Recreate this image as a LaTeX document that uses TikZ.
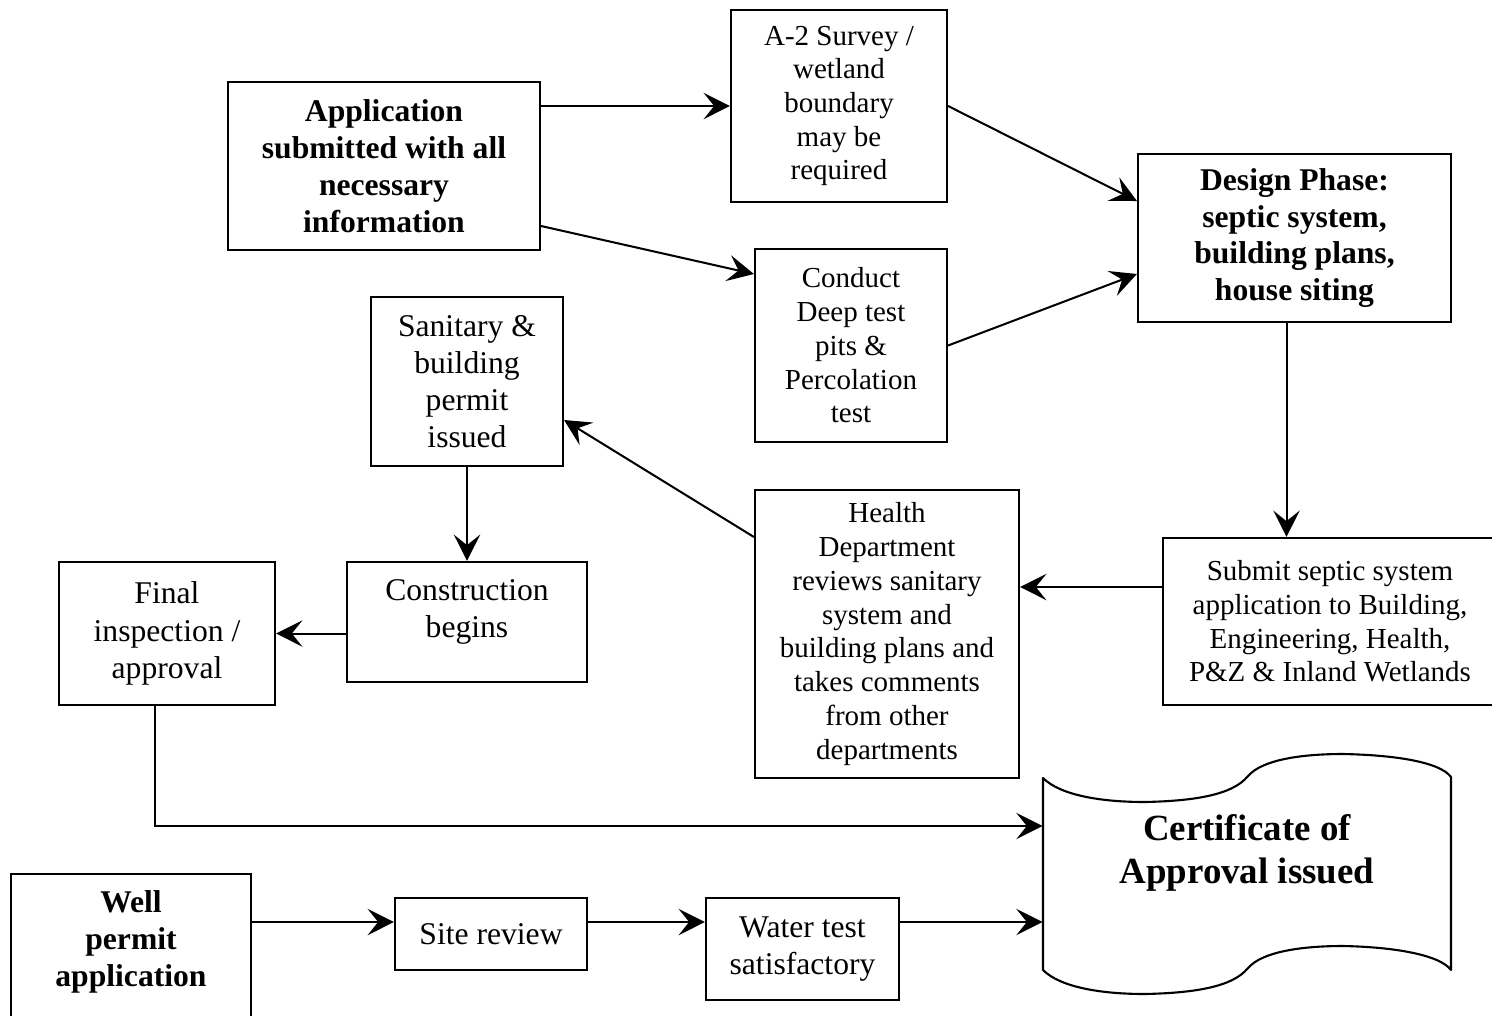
\documentclass[tikz,border=0pt]{standalone}
\usepackage{fontspec}
\setmainfont{Liberation Serif}
\usetikzlibrary{arrows.meta,calc}
\def\PX{0.02cm}
\newcommand\fsA{\fontsize{16.5}{19.2}\selectfont}
\newcommand\fsB{\fontsize{18}{21.2}\selectfont}
\newcommand\fsBold{\bfseries\fontsize{18}{21}\selectfont}
\newcommand\fsCert{\bfseries\fontsize{21}{24.4}\selectfont}
\tikzset{
  boxline/.style={draw, line width=1.2pt},
  box/.style={boxline, align=center, inner sep=0pt},
  boxA/.style={box, font=\fsA},
  boxB/.style={box, font=\fsB},
  boxC/.style={box, font=\fsBold},
  arr/.style={line width=1.15pt, -{Stealth[length=15pt, width=15pt, inset=6pt]}},
}
\begin{document}
\begin{tikzpicture}[x=\PX, y=-\PX]
\useasboundingbox (0,0) rectangle (1492,1015);
\clip (0,0) rectangle (1492,1015);
\fill[white] (0,0) rectangle (1492,1015);

\coordinate (row) at (0,922);
\coordinate (hrow) at (0,587);

\node[boxC, minimum width=312*\PX, minimum height=168*\PX] (app) at (384,166)
  {Application\\submitted with all\\necessary\\information};
\node[boxA, minimum width=216*\PX, minimum height=192*\PX] (a2) at (839,106)
  {A-2 Survey /\\wetland\\boundary\\may be\\required};
\node[boxA, minimum width=192*\PX, minimum height=193*\PX] (deep) at (851,345.5)
  {Conduct\\Deep test\\pits \&\\Percolation\\test};
\node[boxC, minimum width=313*\PX, minimum height=168*\PX] (design) at (1294.5,238)
  {Design Phase:\\septic system,\\building plans,\\house siting};
\node[boxB, minimum width=192*\PX, minimum height=169*\PX] (sanit) at (467,381.5)
  {Sanitary \&\\building\\permit\\issued};
\node[boxA, minimum width=264*\PX, minimum height=288*\PX] (health) at (887,634)
  {Health\\Department\\reviews sanitary\\system and\\building plans and\\takes comments\\from other\\departments};
\node[boxA, minimum width=334*\PX, minimum height=167*\PX] (submit) at (1330,621.5)
  {Submit septic system\\application to Building,\\Engineering, Health,\\P\&Z \& Inland Wetlands};
\node[box, minimum width=240*\PX, minimum height=120*\PX,
  label={[font=\fsB, align=center, inner sep=0pt, anchor=center, yshift=10*\PX]center:{Construction\\begins}}]
  (constr) at (467,622) {};
\node[boxB, minimum width=216*\PX, minimum height=143*\PX] (fin) at (167,633.5)
  {Final\\inspection /\\approval};
\node[box, minimum width=240*\PX, minimum height=166*\PX,
  label={[font=\fsBold, align=center, anchor=north, inner sep=0pt, yshift=-17*\PX]north:{Well\\permit\\application}}]
  (well) at (131,957) {};
\node[boxB, minimum width=192*\PX, minimum height=72*\PX] (site) at (491,934) {Site review};
\node[boxB, minimum width=193*\PX, minimum height=102*\PX] (water) at (802.5,949)
  {Water test\\satisfactory};

% certificate (wave shape)
\node[minimum width=408*\PX, minimum height=192*\PX, inner sep=0pt] (cert) at (1247,874) {};
\draw[line width=1.2pt, line join=round]
  (1043,778) .. controls (1060,795) and (1100,802) .. (1145,802)
  .. controls (1190,801) and (1232,796) .. (1248,776)
  .. controls (1262,760) and (1300,754) .. (1343,754)
  .. controls (1395,755) and (1440,762) .. (1451,777)
  -- (1451,970)
  .. controls (1440,955) and (1395,947) .. (1343,946)
  .. controls (1300,946) and (1262,952) .. (1248,968)
  .. controls (1232,988) and (1190,993) .. (1145,994)
  .. controls (1100,994) and (1060,987) .. (1043,970)
  -- cycle;
\node[font=\fsCert, align=center, inner sep=0pt] (certtxt) at (1247,853)
  {Certificate of\\Approval issued};

% connectors
\draw[arr] (app.east |- a2.west) -- (a2.west);
\draw[arr] ([yshift=-60*\PX]app.east) -- ([yshift=71.5*\PX]deep.west);
\draw[arr] (a2.east) -- ([yshift=37*\PX]design.west);
\draw[arr] (deep.east) -- ([yshift=-36*\PX]design.west);
\draw[arr] ([xshift=-8*\PX]design.south) -- ([xshift=-8*\PX]design.south |- submit.north);
\draw[arr] (submit.west |- hrow) -- (health.east |- hrow);
\draw[arr] ([yshift=97*\PX]health.west) -- ([yshift=-38.5*\PX]sanit.east);
\draw[arr] (sanit.south) -- (constr.north);
\draw[arr] (constr.west |- fin.east) -- (fin.east);
\draw[arr] ([xshift=-12*\PX]fin.south) |- ([yshift=48*\PX]cert.west);
\draw[arr] (well.east |- row) -- (site.west |- row);
\draw[arr] (site.east |- row) -- (water.west |- row);
\draw[arr] (water.east |- row) -- (cert.west |- row);
\end{tikzpicture}
\end{document}
